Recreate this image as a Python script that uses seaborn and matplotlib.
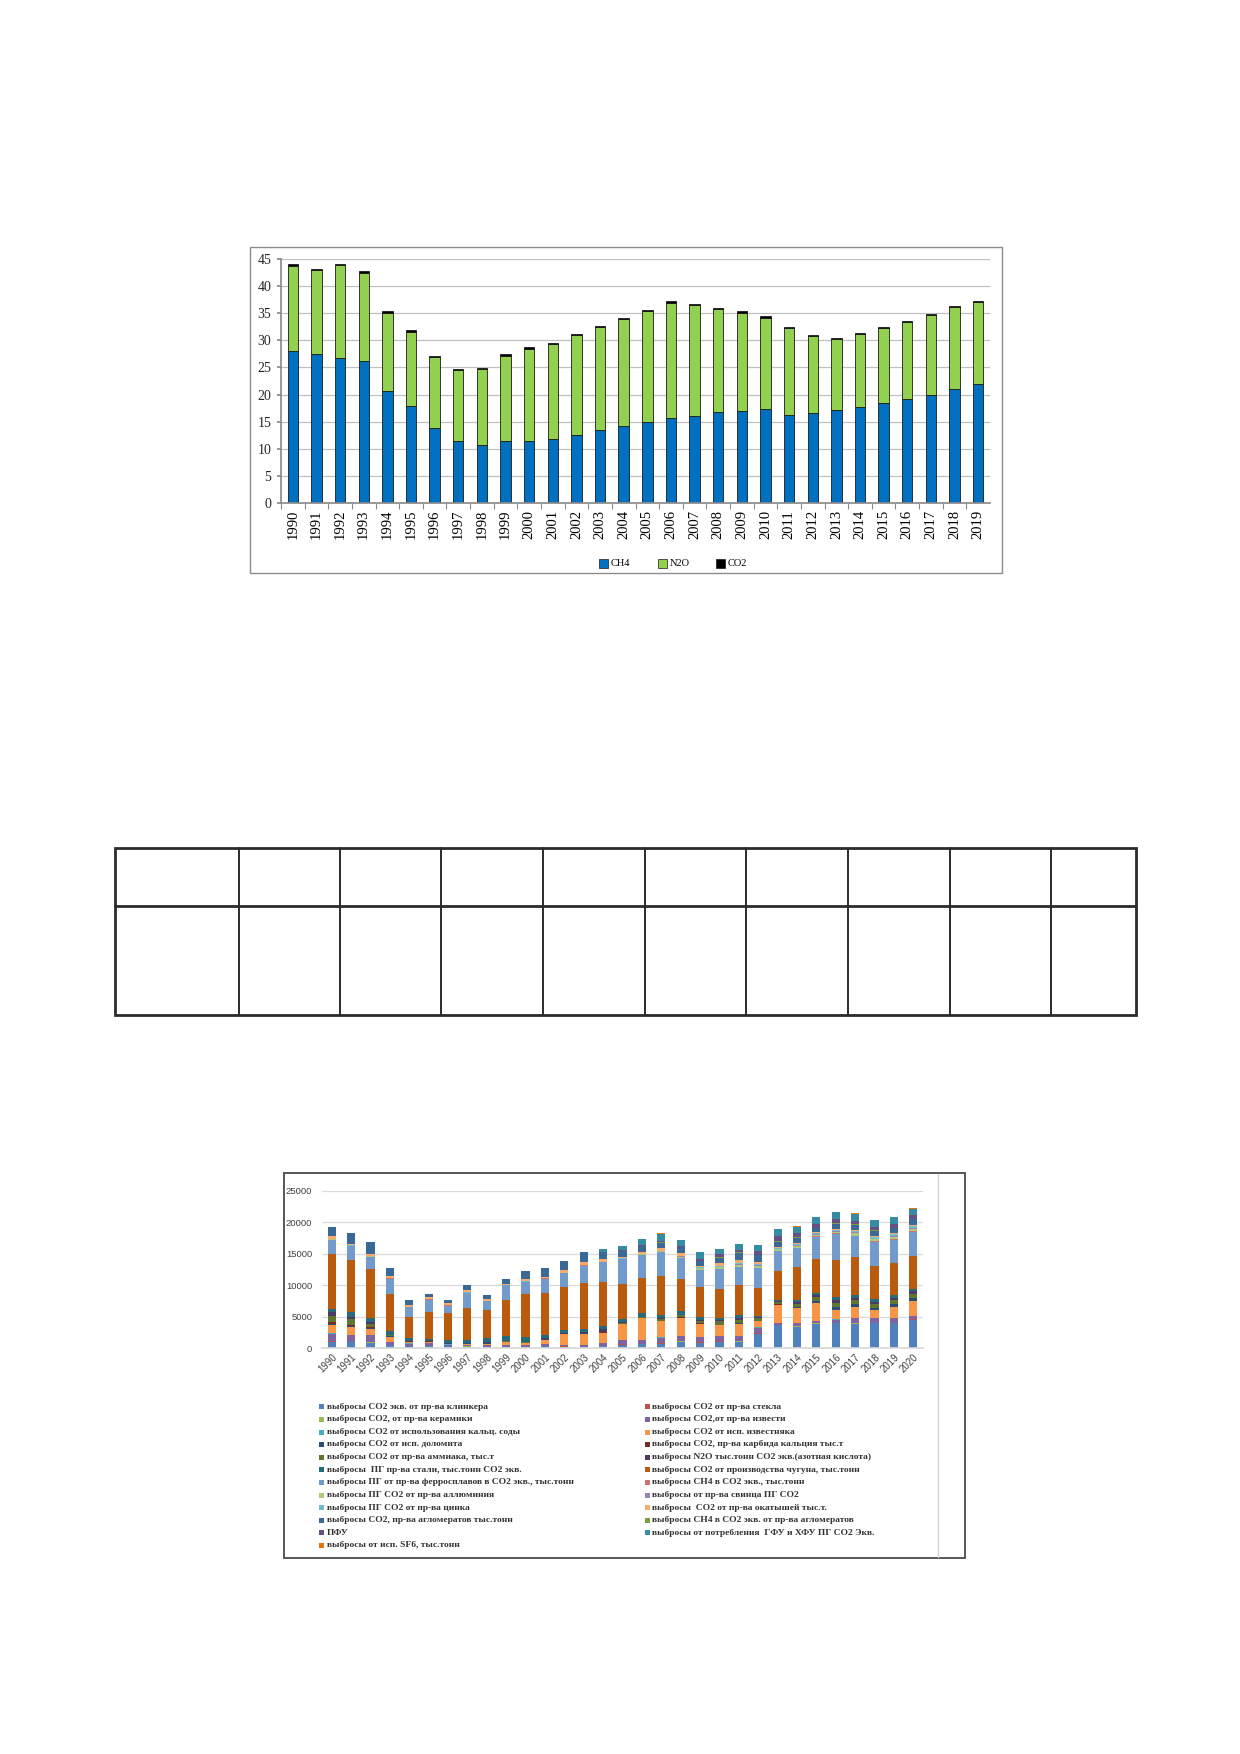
import numpy as np
import pandas as pd
import matplotlib
matplotlib.use("Agg")
import matplotlib.pyplot as plt
from matplotlib.patches import Rectangle
from matplotlib.lines import Line2D
import seaborn as sns

sns.set_theme(style="white")
plt.rcParams['font.family'] = ['Liberation Serif', 'DejaVu Sans']

W, H = 1240, 1754

# ---------------- Chart 1 data ----------------
years1 = list(range(1990, 2020))
ch4 = [28.0, 27.4, 26.8, 26.2, 20.6, 17.9, 13.8, 11.5, 10.7, 11.4, 11.5, 11.8, 12.5, 13.4, 14.2,
       15.0, 15.6, 16.1, 16.8, 17.0, 17.3, 16.3, 16.6, 17.1, 17.7, 18.4, 19.1, 20.0, 21.1, 22.0]
n2o = [15.8, 15.5, 17.1, 16.3, 14.4, 13.6, 13.1, 13.1, 14.0, 15.7, 16.9, 17.5, 18.4, 19.0, 19.7,
       20.4, 21.3, 20.4, 18.9, 18.1, 16.9, 15.9, 14.2, 13.1, 13.5, 13.8, 14.2, 14.6, 15.0, 15.0]
co2 = [0.3, 0.2, 0.2, 0.3, 0.4, 0.4, 0.2, 0.2, 0.2, 0.3, 0.3, 0.3, 0.2, 0.2, 0.3,
       0.2, 0.3, 0.2, 0.2, 0.3, 0.2, 0.2, 0.2, 0.2, 0.2, 0.2, 0.2, 0.2, 0.3, 0.3]
gases = ["CH4", "N2O", "CO2"]
gas_colors = {"CH4": "#0070C0", "N2O": "#92D050", "CO2": "#000000"}

# ---------------- Chart 2 data ----------------
years2 = list(range(1990, 2021))
klinker = [1000, 900, 800, 400, 300, 300, 250, 200, 150, 150, 150, 250, 200, 150, 300, 500, 600, 700, 950, 850, 1000, 950, 2300, 3600, 3350, 3800, 3900, 3800, 3900, 3900, 4500]
steklo = [80, 70, 60, 40, 30, 30, 30, 30, 30, 30, 30, 40, 40, 50, 50, 60, 60, 70, 60, 50, 50, 60, 60, 60, 60, 70, 70, 70, 70, 70, 70]
keramika = [50, 50, 50, 40, 30, 30, 30, 30, 30, 30, 30, 30, 30, 30, 40, 40, 40, 40, 40, 40, 40, 40, 40, 40, 40, 40, 40, 40, 40, 40, 40]
izvest = [1170, 980, 1090, 420, 340, 440, 240, 190, 190, 190, 190, 280, 230, 220, 410, 600, 600, 840, 800, 810, 760, 850, 850, 300, 450, 390, 490, 790, 690, 690, 440]
soda = [40, 40, 40, 30, 30, 30, 30, 30, 30, 30, 30, 30, 40, 40, 40, 40, 40, 40, 40, 40, 40, 40, 40, 40, 40, 40, 40, 40, 40, 40, 40]
izvestnyak = [1360, 1310, 960, 860, 260, 160, 110, 210, 260, 460, 310, 710, 1610, 1810, 1560, 2560, 3360, 2560, 2910, 2010, 1710, 1910, 960, 2760, 2360, 2860, 1560, 1810, 1260, 1810, 2410]
dolomit = [100, 100, 100, 50, 30, 30, 30, 30, 30, 30, 30, 30, 30, 30, 50, 40, 40, 40, 40, 50, 50, 50, 50, 100, 150, 250, 400, 400, 350, 400, 400]
karbid = [400, 150, 300, 50, 30, 30, 30, 30, 30, 30, 30, 30, 30, 30, 50, 40, 40, 40, 40, 50, 50, 50, 50, 60, 60, 80, 80, 80, 80, 80, 80]
ammiak = [950, 1000, 350, 100, 50, 40, 50, 50, 80, 100, 100, 80, 80, 80, 100, 100, 100, 250, 300, 450, 550, 500, 350, 300, 500, 500, 600, 550, 550, 550, 550]
azot = [500, 400, 350, 100, 90, 50, 40, 40, 60, 90, 90, 60, 60, 60, 350, 120, 120, 120, 120, 150, 150, 250, 150, 200, 250, 350, 400, 400, 400, 400, 500]
stal = [550, 650, 600, 550, 400, 350, 400, 400, 650, 750, 800, 550, 500, 450, 500, 500, 500, 500, 550, 350, 300, 500, 200, 240, 340, 420, 470, 420, 420, 420, 420]
chugun = [8800, 8350, 7900, 6000, 3400, 4300, 4400, 5150, 4550, 5750, 6750, 6700, 6850, 7450, 7050, 5650, 5550, 6300, 5100, 4900, 4750, 4850, 4500, 4600, 5200, 5350, 5950, 6100, 5250, 5150, 5150]
ferro = [2200, 2200, 1900, 2400, 1500, 1900, 1100, 2350, 1350, 2350, 1950, 2250, 2150, 2700, 3100, 3900, 3750, 3800, 3300, 2650, 3050, 2750, 3100, 3100, 3050, 3550, 4150, 3300, 3850, 3650, 3900]
metan = [30, 30, 30, 30, 30, 30, 30, 30, 30, 30, 30, 30, 30, 30, 30, 30, 30, 30, 50, 50, 100, 100, 100, 50, 50, 50, 50, 50, 50, 50, 100]
alum = [20, 20, 20, 20, 20, 20, 20, 20, 20, 20, 20, 20, 20, 20, 20, 20, 100, 20, 200, 200, 250, 300, 300, 250, 300, 250, 300, 350, 300, 350, 300]
svinec = [20, 20, 20, 20, 20, 20, 20, 20, 20, 20, 20, 20, 20, 20, 20, 20, 20, 20, 50, 50, 100, 150, 100, 100, 100, 100, 150, 200, 150, 200, 200]
cink = [30, 30, 30, 30, 30, 30, 30, 30, 30, 30, 30, 30, 30, 30, 30, 30, 50, 30, 150, 100, 100, 150, 150, 100, 150, 100, 100, 200, 200, 250, 250]
okatysh = [500, 300, 350, 350, 250, 300, 350, 350, 250, 150, 450, 200, 450, 450, 450, 250, 300, 450, 350, 250, 400, 450, 400, 200, 200, 200, 200, 200, 200, 200, 200]
aglom = [1400, 1650, 1900, 1150, 800, 500, 400, 750, 650, 750, 1200, 1300, 1350, 1600, 1100, 900, 900, 900, 950, 800, 900, 1200, 1100, 800, 900, 650, 800, 800, 850, 800, 900]
metan_aglom = [30, 30, 30, 30, 30, 30, 30, 30, 30, 30, 30, 30, 30, 30, 30, 30, 30, 30, 50, 50, 50, 50, 50, 50, 50, 50, 50, 50, 50, 50, 50]
pfu = [0, 0, 0, 0, 0, 0, 0, 0, 0, 0, 0, 0, 0, 0, 0, 200, 200, 250, 150, 300, 500, 300, 500, 800, 650, 550, 650, 550, 600, 550, 600]
gfu = [0, 0, 0, 0, 0, 0, 0, 0, 0, 0, 0, 0, 0, 0, 500, 600, 900, 1150, 1000, 1000, 800, 1000, 950, 1150, 1050, 1100, 1100, 1100, 1000, 1100, 1000]
sf6 = [0, 0, 0, 0, 0, 0, 0, 0, 0, 0, 0, 0, 0, 0, 30, 30, 30, 30, 30, 30, 30, 30, 30, 50, 50, 50, 100, 100, 100, 100, 100]

series_labels = [
    "выбросы CO2 экв. от пр-ва клинкера",
    "выбросы CO2 от пр-ва стекла",
    "выбросы CO2, от пр-ва керамики",
    "выбросы CO2,от пр-ва извести",
    "выбросы CO2 от использования кальц. соды",
    "выбросы CO2 от исп. известняка",
    "выбросы CO2 от исп. доломита",
    "выбросы CO2, пр-ва карбида кальция тыс.т",
    "выбросы CO2 от пр-ва аммиака, тыс.т",
    "выбросы N2O тыс.тонн CO2 экв.(азотная кислота)",
    "выбросы  ПГ пр-ва стали, тыс.тонн CO2 экв.",
    "выбросы CO2 от производства чугуна, тыс.тонн",
    "выбросы ПГ от пр-ва ферросплавов в CO2 экв., тыс.тонн",
    "выбросы CH4 в CO2 экв., тыс.тонн",
    "выбросы ПГ CO2 от пр-ва аллюминия",
    "выбросы от пр-ва свинца ПГ CO2",
    "выбросы ПГ CO2 от пр-ва цинка",
    "выбросы  CO2 от пр-ва окатышей тыс.т.",
    "выбросы CO2, пр-ва агломератов тыс.тонн",
    "выбросы CH4 в CO2 экв. от пр-ва агломератов",
    "ПФУ",
    "выбросы от потребления  ГФУ и ХФУ ПГ CO2 Экв.",
    "выбросы от исп. SF6, тыс.тонн",
]
series_values = [klinker, steklo, keramika, izvest, soda, izvestnyak, dolomit, karbid, ammiak,
                 azot, stal, chugun, ferro, metan, alum, svinec, cink, okatysh, aglom,
                 metan_aglom, pfu, gfu, sf6]
series_colors = ["#4F81BD", "#C0504D", "#9BBB59", "#8064A2", "#4BACC6", "#F79646",
                 "#2C4D75", "#772C2A", "#5F7530", "#4D3B62", "#276A7C", "#BA5A0C",
                 "#729ACA", "#CD7371", "#AFC97A", "#9983B5", "#6FBDD1", "#F9AB6B",
                 "#3A6997", "#7E9C40", "#664F83", "#358CA3", "#E3740B"]
yticks2 = [0, 5000, 10000, 15000, 20000, 25000]
yticks1 = [0, 5, 10, 15, 20, 25, 30, 35, 40, 45]


def fx(x):
    return x / W


def fy(y):
    return 1 - y / H


fig = plt.figure(figsize=(W / 100, H / 100), dpi=100)
fig.patch.set_facecolor("white")

# ================= Chart 1 =================
fig.add_artist(Rectangle((fx(249.5), fy(573)), (1002 - 249.5) / W, (573 - 247) / H,
                         transform=fig.transFigure, fill=False, edgecolor="#8c8c8c", lw=1.0))

df1 = pd.DataFrame({
    "year": years1 * 3,
    "gas": ["CH4"] * len(years1) + ["N2O"] * len(years1) + ["CO2"] * len(years1),
    "value": ch4 + n2o + co2,
})
ax1 = fig.add_axes([fx(281), fy(503), 709 / W, 244 / H])
sns.histplot(data=df1, x="year", weights="value", hue="gas", hue_order=gases[::-1],
             multiple="stack", discrete=True, shrink=0.44, palette=gas_colors,
             edgecolor="#1a1a1a", linewidth=0.6, alpha=1, legend=False, ax=ax1)
ax1.set_xlim(1989.5, 2019.5)
ax1.set_ylim(0, 45)
ax1.set_yticks(yticks1)
ax1.set_yticklabels([str(v) for v in yticks1], fontsize=10, family="Liberation Serif")
ax1.set_xticks(years1)
ax1.set_xticklabels([str(y) for y in years1], rotation=90, fontsize=10.5, family="Liberation Serif")
ax1.set_xticks([y + 0.5 for y in years1[:-1]] + [1989.5], minor=True)
ax1.tick_params(axis="x", which="major", length=0, pad=5, colors="#000000")
ax1.tick_params(axis="x", which="minor", length=4, color="#8c8c8c", width=0.8, bottom=True)
ax1.tick_params(axis="y", which="major", length=3, pad=4, color="#8c8c8c", left=True)
ax1.yaxis.grid(True, color="#c0c0c0", lw=0.9)
ax1.set_axisbelow(True)
for s in ["top", "right"]:
    ax1.spines[s].set_visible(False)
ax1.spines["left"].set_color("#8c8c8c")
ax1.spines["bottom"].set_color("#8c8c8c")
ax1.set_xlabel("")
ax1.set_ylabel("")
ax1.set_facecolor("none")

# legend chart 1
for lab, xs in zip(gases, [599, 658, 716]):
    fig.add_artist(Rectangle((fx(xs), fy(567.5)), 9 / W, 9 / H, transform=fig.transFigure,
                             facecolor=gas_colors[lab], edgecolor="#1a1a1a", lw=0.5))
    fig.text(fx(xs + 11.5), fy(563), lab, fontsize=7.5, family="Liberation Serif",
             va="center", ha="left", color="#000000")

# ================= Table =================
tx = [115, 239, 340, 441, 543, 645, 746, 848, 950, 1051, 1136]
ty0, ty1, ty2 = 848, 906, 1015
for x in tx[1:-1]:
    fig.add_artist(Line2D([fx(x), fx(x)], [fy(ty0), fy(ty2)], transform=fig.transFigure,
                          color="#2b2b2b", lw=1.4))
fig.add_artist(Line2D([fx(tx[0]), fx(tx[-1])], [fy(ty1), fy(ty1)], transform=fig.transFigure,
                      color="#2b2b2b", lw=2.0))
fig.add_artist(Rectangle((fx(tx[0]), fy(ty2)), (tx[-1] - tx[0]) / W, (ty2 - ty0) / H,
                         transform=fig.transFigure, fill=False, edgecolor="#2b2b2b", lw=2.0))

# ================= Chart 2 =================
fig.add_artist(Rectangle((fx(283.6), fy(1558)), (965 - 283.6) / W, (1558 - 1173) / H,
                         transform=fig.transFigure, fill=False, edgecolor="#4a4a4a", lw=1.3))
fig.add_artist(Line2D([fx(938), fx(938)], [fy(1174), fy(1557)], transform=fig.transFigure,
                      color="#d4d4d4", lw=1.0))

rows = []
for lab, vals in zip(series_labels, series_values):
    for yr, v in zip(years2, vals):
        rows.append((yr, lab, v))
df2 = pd.DataFrame(rows, columns=["year", "series", "value"])
pal2 = dict(zip(series_labels, series_colors))

ax2 = fig.add_axes([fx(322), fy(1348), 601 / W, (1348 - 1190.7) / H])
sns.histplot(data=df2, x="year", weights="value", hue="series", hue_order=series_labels[::-1],
             multiple="stack", discrete=True, shrink=0.42, palette=pal2,
             linewidth=0, alpha=1, legend=False, ax=ax2)
ax2.set_xlim(1989.5, 2020.5)
ax2.set_ylim(0, 25000)
ax2.set_yticks(yticks2)
ax2.set_yticklabels([str(v) for v in yticks2], fontsize=6.8, family="Liberation Sans", color="#404040")
ax2.set_xticks(years2)
ax2.set_xticklabels([str(y) for y in years2], rotation=45, ha="right", rotation_mode="anchor",
                    fontsize=6.9, family="Liberation Sans", color="#404040")
ax2.tick_params(axis="both", length=0)
ax2.tick_params(axis="x", pad=3)
ax2.tick_params(axis="y", pad=7)
ax2.yaxis.grid(True, color="#d9d9d9", lw=0.9)
ax2.set_axisbelow(True)
for s in ["top", "right", "left"]:
    ax2.spines[s].set_visible(False)
ax2.spines["bottom"].set_color("#d9d9d9")
ax2.set_xlabel("")
ax2.set_ylabel("")
ax2.set_facecolor("none")

# legend chart 2 (two columns, row-major like the original)
for i, (lab, col) in enumerate(zip(series_labels, series_colors)):
    r, c = divmod(i, 2)
    yc = 1406.7 + r * 12.6
    mx = 318.5 if c == 0 else 645.5
    tx0 = 327 if c == 0 else 652
    fig.add_artist(Rectangle((fx(mx), fy(yc + 2.6)), 5 / W, 5 / H, transform=fig.transFigure,
                             facecolor=col, edgecolor="none"))
    fig.text(fx(tx0), fy(yc), lab, fontsize=6.8, family="Liberation Serif", weight="bold",
             va="center", ha="left", color="#333333")

fig.savefig("out.png", dpi=100, facecolor="white")
